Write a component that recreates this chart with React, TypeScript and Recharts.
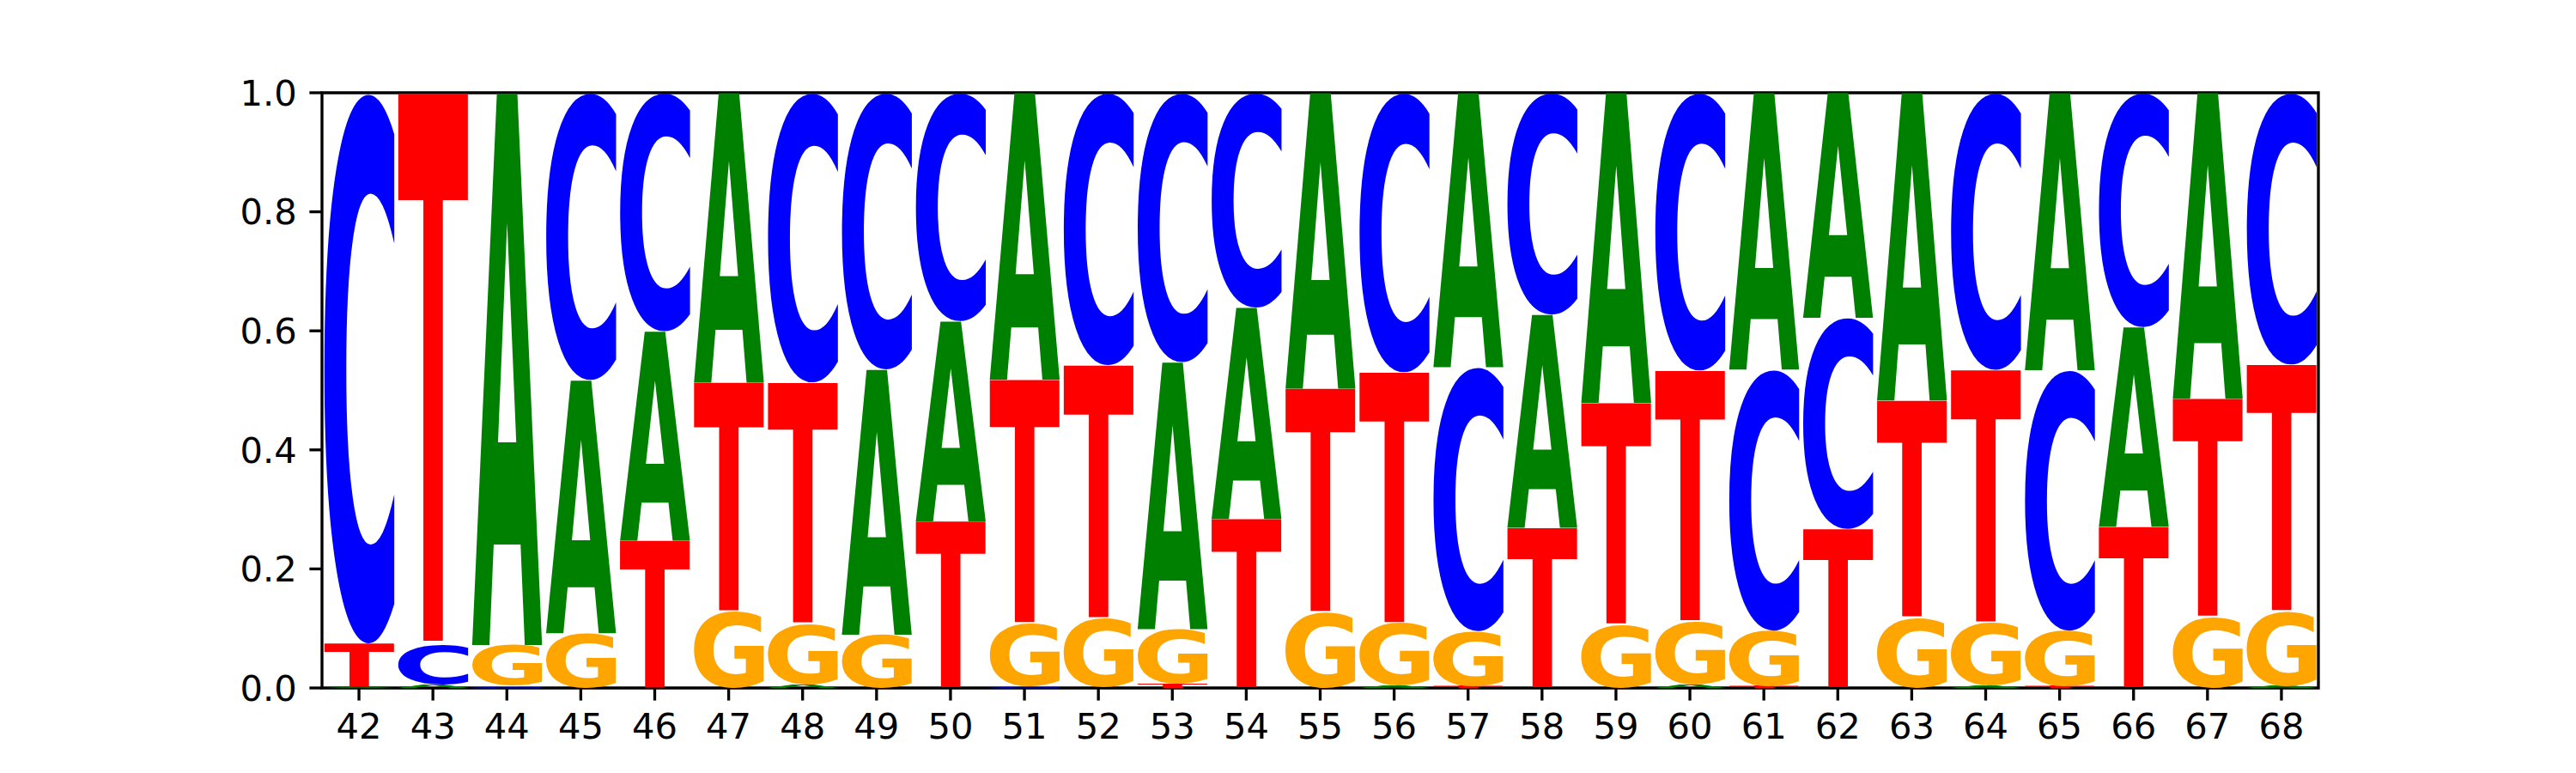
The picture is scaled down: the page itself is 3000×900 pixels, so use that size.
import React from "react";
import { BarChart, Bar, XAxis, YAxis, ReferenceArea } from "recharts";

const positions = ["42","43","44","45","46","47","48","49","50","51","52","53","54","55","56","57","58","59","60","61","62","63","64","65","66","67","68"];
const probA = [0.002,0.006,0.928,0.425,0.3515,0.487,0.005,0.4454,0.336,0.482,0.0,0.448,0.355,0.497,0.003,0.461,0.358,0.521,0.005,0.465,0.378,0.517,0.004,0.466,0.335,0.514,0.003];
const probC = [0.926,0.067,0.002,0.483,0.401,0.0,0.487,0.465,0.384,0.002,0.458,0.453,0.361,0.0,0.47,0.444,0.373,0.0,0.467,0.439,0.355,0.0,0.466,0.438,0.394,0.0,0.457];
const probG = [0.0,0.0,0.068,0.092,0.0,0.128,0.1025,0.0896,0.0,0.106,0.116,0.092,0.0,0.127,0.105,0.092,0.0,0.106,0.106,0.093,0.0,0.118,0.105,0.093,0.0,0.119,0.125];
const probT = [0.072,0.927,0.002,0.0,0.2475,0.385,0.4055,0.0,0.28,0.41,0.426,0.007,0.284,0.376,0.422,0.003,0.269,0.373,0.422,0.003,0.267,0.365,0.425,0.003,0.271,0.367,0.415];
const yTicks = [0, 0.2, 0.4, 0.6, 0.8, 1.0];

const COLORS: Record<string, string> = { A: "#008000", C: "#0000ff", G: "#ffa500", T: "#ff0000" };
const FONT = "DejaVu Sans";
const FS = 200;

const data = positions.map((pos, i) => {
  const items = [
    { l: "A", v: probA[i] },
    { l: "C", v: probC[i] },
    { l: "G", v: probG[i] },
    { l: "T", v: probT[i] },
  ].sort((a, b) => a.v - b.v);
  const row: any = { pos };
  items.forEach((it, r) => {
    row["r" + r] = it.v;
    row["l" + r] = it.l;
  });
  return row;
});

const metricCache: Record<string, { L: number; R: number; A: number; D: number }> = {};
function metrics(ch: string) {
  if (metricCache[ch]) return metricCache[ch];
  let m = { L: -0.03 * FS, R: 0.7 * FS, A: 0.73 * FS, D: 0 };
  try {
    const cv = document.createElement("canvas");
    const ctx = cv.getContext("2d");
    if (ctx) {
      ctx.font = `bold ${FS}px "${FONT}"`;
      ctx.textAlign = "left";
      ctx.textBaseline = "alphabetic";
      const t = ctx.measureText(ch);
      m = {
        L: t.actualBoundingBoxLeft,
        R: t.actualBoundingBoxRight,
        A: t.actualBoundingBoxAscent,
        D: t.actualBoundingBoxDescent,
      };
    }
  } catch (e) {}
  metricCache[ch] = m;
  return m;
}

function Glyph(props: any) {
  const { x, y, width, height, payload, rank } = props;
  if (!height || height <= 0 || !width) return null;
  const ch = payload["l" + rank];
  const m = metrics(ch);
  const sx = width / (m.L + m.R);
  const sy = height / (m.A + m.D);
  return (
    <text
      x={0}
      y={0}
      fontFamily={FONT}
      fontWeight="bold"
      fontSize={FS}
      fill={COLORS[ch]}
      transform={`translate(${x},${y}) scale(${sx},${sy}) translate(${m.L},${m.A})`}
    >
      {ch}
    </text>
  );
}

const tickStyle = { fill: "#000", fontSize: 41.67, fontFamily: FONT };
const lineStyle = { stroke: "#000", strokeWidth: 3.33 };

export default function App() {
  return (
    <div style={{ position: "absolute", left: 0, top: 0, width: 3000, height: 900, background: "#fff" }}>
      <BarChart
        width={3000}
        height={900}
        data={data}
        margin={{ top: 108, right: 300, bottom: 0, left: 275 }}
        barCategoryGap="2.5%"
      >
        <XAxis
          dataKey="pos"
          type="category"
          interval={0}
          height={99}
          axisLine={false}
          tickLine={lineStyle}
          tickSize={14.6}
          tickMargin={14.6}
          tick={tickStyle}
          padding={{ left: 0, right: 0 }}
        />
        <YAxis
          type="number"
          domain={[0, 1]}
          ticks={yTicks}
          allowDataOverflow
          width={100}
          axisLine={false}
          tickLine={lineStyle}
          tickSize={14.6}
          tickMargin={14.6}
          tick={tickStyle}
          tickFormatter={(v: number) => v.toFixed(1)}
        />
        {[0, 1, 2, 3].map((r) => (
          <Bar
            key={r}
            dataKey={"r" + r}
            stackId="s"
            isAnimationActive={false}
            shape={(p: any) => <Glyph {...p} rank={r} />}
          />
        ))}
        <ReferenceArea
          y1={0}
          y2={1}
          fill="none"
          fillOpacity={0}
          stroke="#000"
          strokeWidth={3.33}
          ifOverflow="visible"
        />
      </BarChart>
    </div>
  );
}
